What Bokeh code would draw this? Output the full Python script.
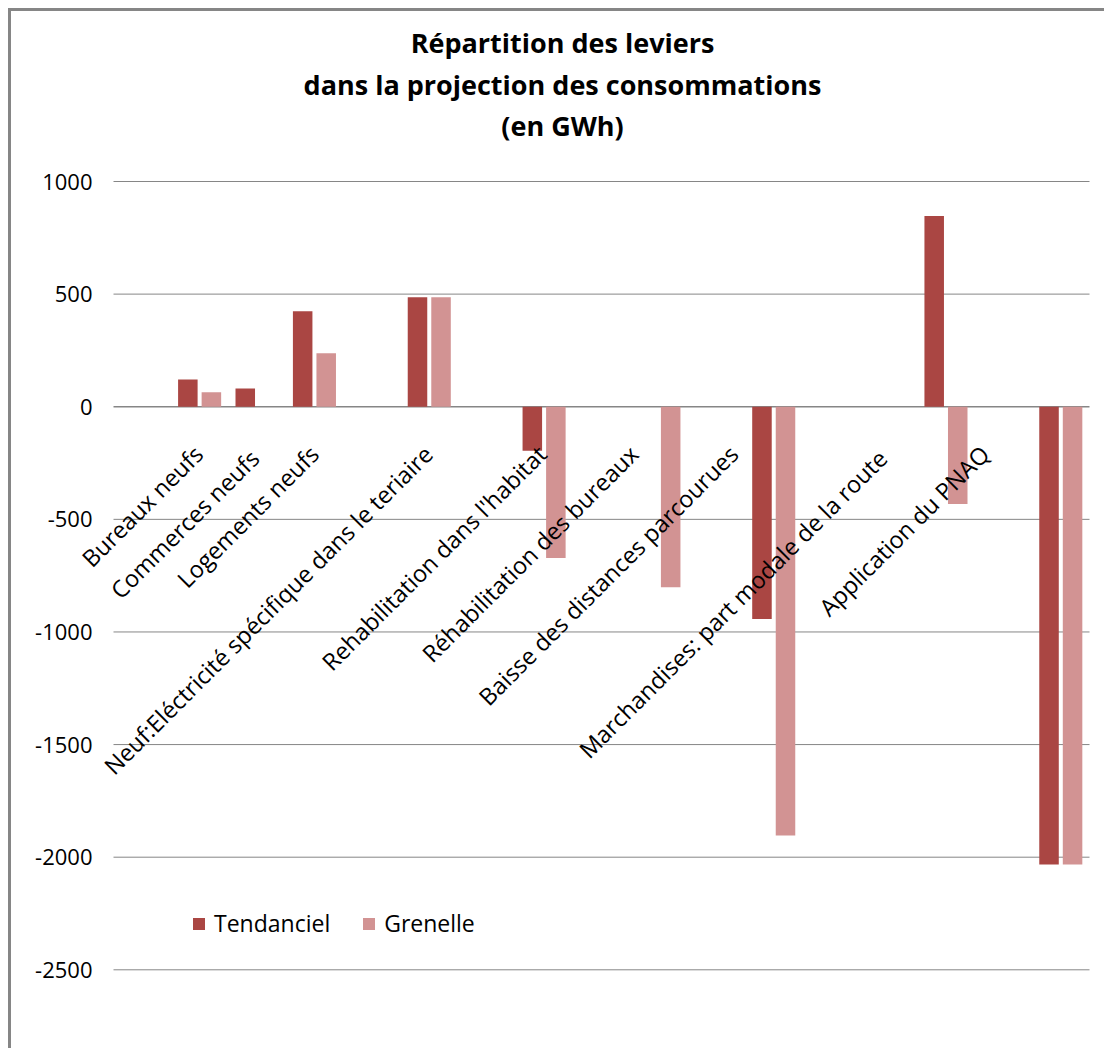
import math
from bokeh.plotting import figure
from bokeh.models import (ColumnDataSource, Range1d, Legend, LegendItem,
                          Label, LabelSet)
from bokeh.transform import dodge
from bokeh.embed import file_html
from bokeh.resources import INLINE
from bokeh.core.properties import value

# ---------------- data ----------------
title_lines = ["Répartition des leviers",
               "dans la projection des consommations",
               "(en GWh)"]
categories = ["Bureaux neufs",
              "Commerces  neufs",
              "Logements neufs",
              "Neuf:Eléctricité spécifique dans le teriaire",
              "Rehabilitation dans l'habitat",
              "Réhabilitation des bureaux",
              "Baisse des distances parcourues",
              "Marchandises:  part modale de la route",
              "Application du PNAQ"]
tendanciel = [121, 81, 424, 486, -195, 0, -943, 847, -2033]
grenelle = [64, 0, 237, 486, -672, -801, -1904, -432, -2033]
series_names = ["Tendanciel", "Grenelle"]
y_ticks = [-2500, -2000, -1500, -1000, -500, 0, 500, 1000]
y_tick_labels = [str(t) for t in y_ticks]

# ---------------- layout / style ----------------
# empty category slots in the sheet before each category
empty_before = [1, 0, 0, 1, 1, 1, 1, 2, 1]
label_dx = [-1, 2, 0, -1, -2, -25, -40, -59, -76]
col_t = "#AA4643"
col_g = "#D29393"
grid_col = "#868686"
FONT = "Open Sans"

W, H = 1096, 1040          # canvas (inside 3px border, 8px margin)
PLOT_L, PLOT_R = 102, 1078  # plot area (gridlines) in canvas px
PLOT_T = 170                # top gridline (1000) in canvas px
PX_PER_UNIT = 0.22523

# slot positions (category index in the sheet, including empty rows)
slots = []
s = 0
for n in empty_before:
    s += n
    slots.append(s + 0.5)
    s += 1
n_slots = s
slot_w = (PLOT_R - PLOT_L) / n_slots

x_start = -PLOT_L / slot_w
x_end = n_slots + (W - PLOT_R) / slot_w
y_top = max(y_ticks) + PLOT_T / PX_PER_UNIT
y_bot = max(y_ticks) - (H - PLOT_T) / PX_PER_UNIT

src = ColumnDataSource(dict(xc=slots, cat=categories, tendanciel=tendanciel,
                            grenelle=grenelle, dx=label_dx,
                            zero=[0] * len(categories)))
grid_src = ColumnDataSource(dict(
    y=y_ticks, lab=y_tick_labels,
    x0=[0] * len(y_ticks), x1=[n_slots] * len(y_ticks),
    lw=[1.5 if t == 0 else 1 for t in y_ticks]))

p = figure(x_range=Range1d(x_start, x_end), y_range=Range1d(y_bot, y_top),
           width=W, height=H, output_backend="svg", toolbar_location=None,
           min_border=0)
p.styles = {"margin-left": "8px", "margin-top": "8px",
            "border-top": "3px solid #868686",
            "border-left": "3px solid #868686"}
p.outline_line_color = None
p.axis.visible = False
p.grid.visible = False

# gridlines limited to the plot area, with value labels on the left
p.segment(x0="x0", x1="x1", y0="y", y1="y", source=grid_src,
          line_color=grid_col, line_width="lw")
p.text(x="x0", y="y", text="lab", source=grid_src, x_offset=-21,
       text_align="right", text_baseline="middle",
       text_font=value(FONT), text_font_size="22px", text_color="#000000")

rT = p.vbar(x=dodge("xc", -0.205), top="tendanciel", width=0.34,
            source=src, fill_color=col_t, line_color=None)
rG = p.vbar(x=dodge("xc", 0.205), top="grenelle", width=0.34,
            source=src, fill_color=col_g, line_color=None)

labels = LabelSet(x="xc", y="zero", text="cat", source=src,
                  angle=math.pi / 4, text_align="right",
                  text_baseline="middle", x_offset="dx", y_offset=-43,
                  text_font=value(FONT), text_font_size="23.5px",
                  text_color="#000000")
p.add_layout(labels)

legend = Legend(items=[LegendItem(label=series_names[0], renderers=[rT]),
                       LegendItem(label=series_names[1], renderers=[rG])],
                orientation="horizontal", location=(180, 112),
                glyph_width=15, glyph_height=15, label_standoff=8,
                spacing=31, padding=0, margin=0, border_line_color=None,
                background_fill_alpha=0, label_text_font=FONT,
                label_text_font_size="23px", label_text_color="#000000")
p.add_layout(legend)

# title lines (screen px from the bottom-left of the canvas)
for line, yy in zip(title_lines, [1009, 967, 926]):
    p.add_layout(Label(x=551, y=yy, x_units="screen", y_units="screen",
                       text=line, text_align="center",
                       text_baseline="alphabetic", text_font=FONT,
                       text_font_size="27px", text_font_style="bold",
                       text_color="#000000"))

open("out.html", "w").write(file_html(p, INLINE))
